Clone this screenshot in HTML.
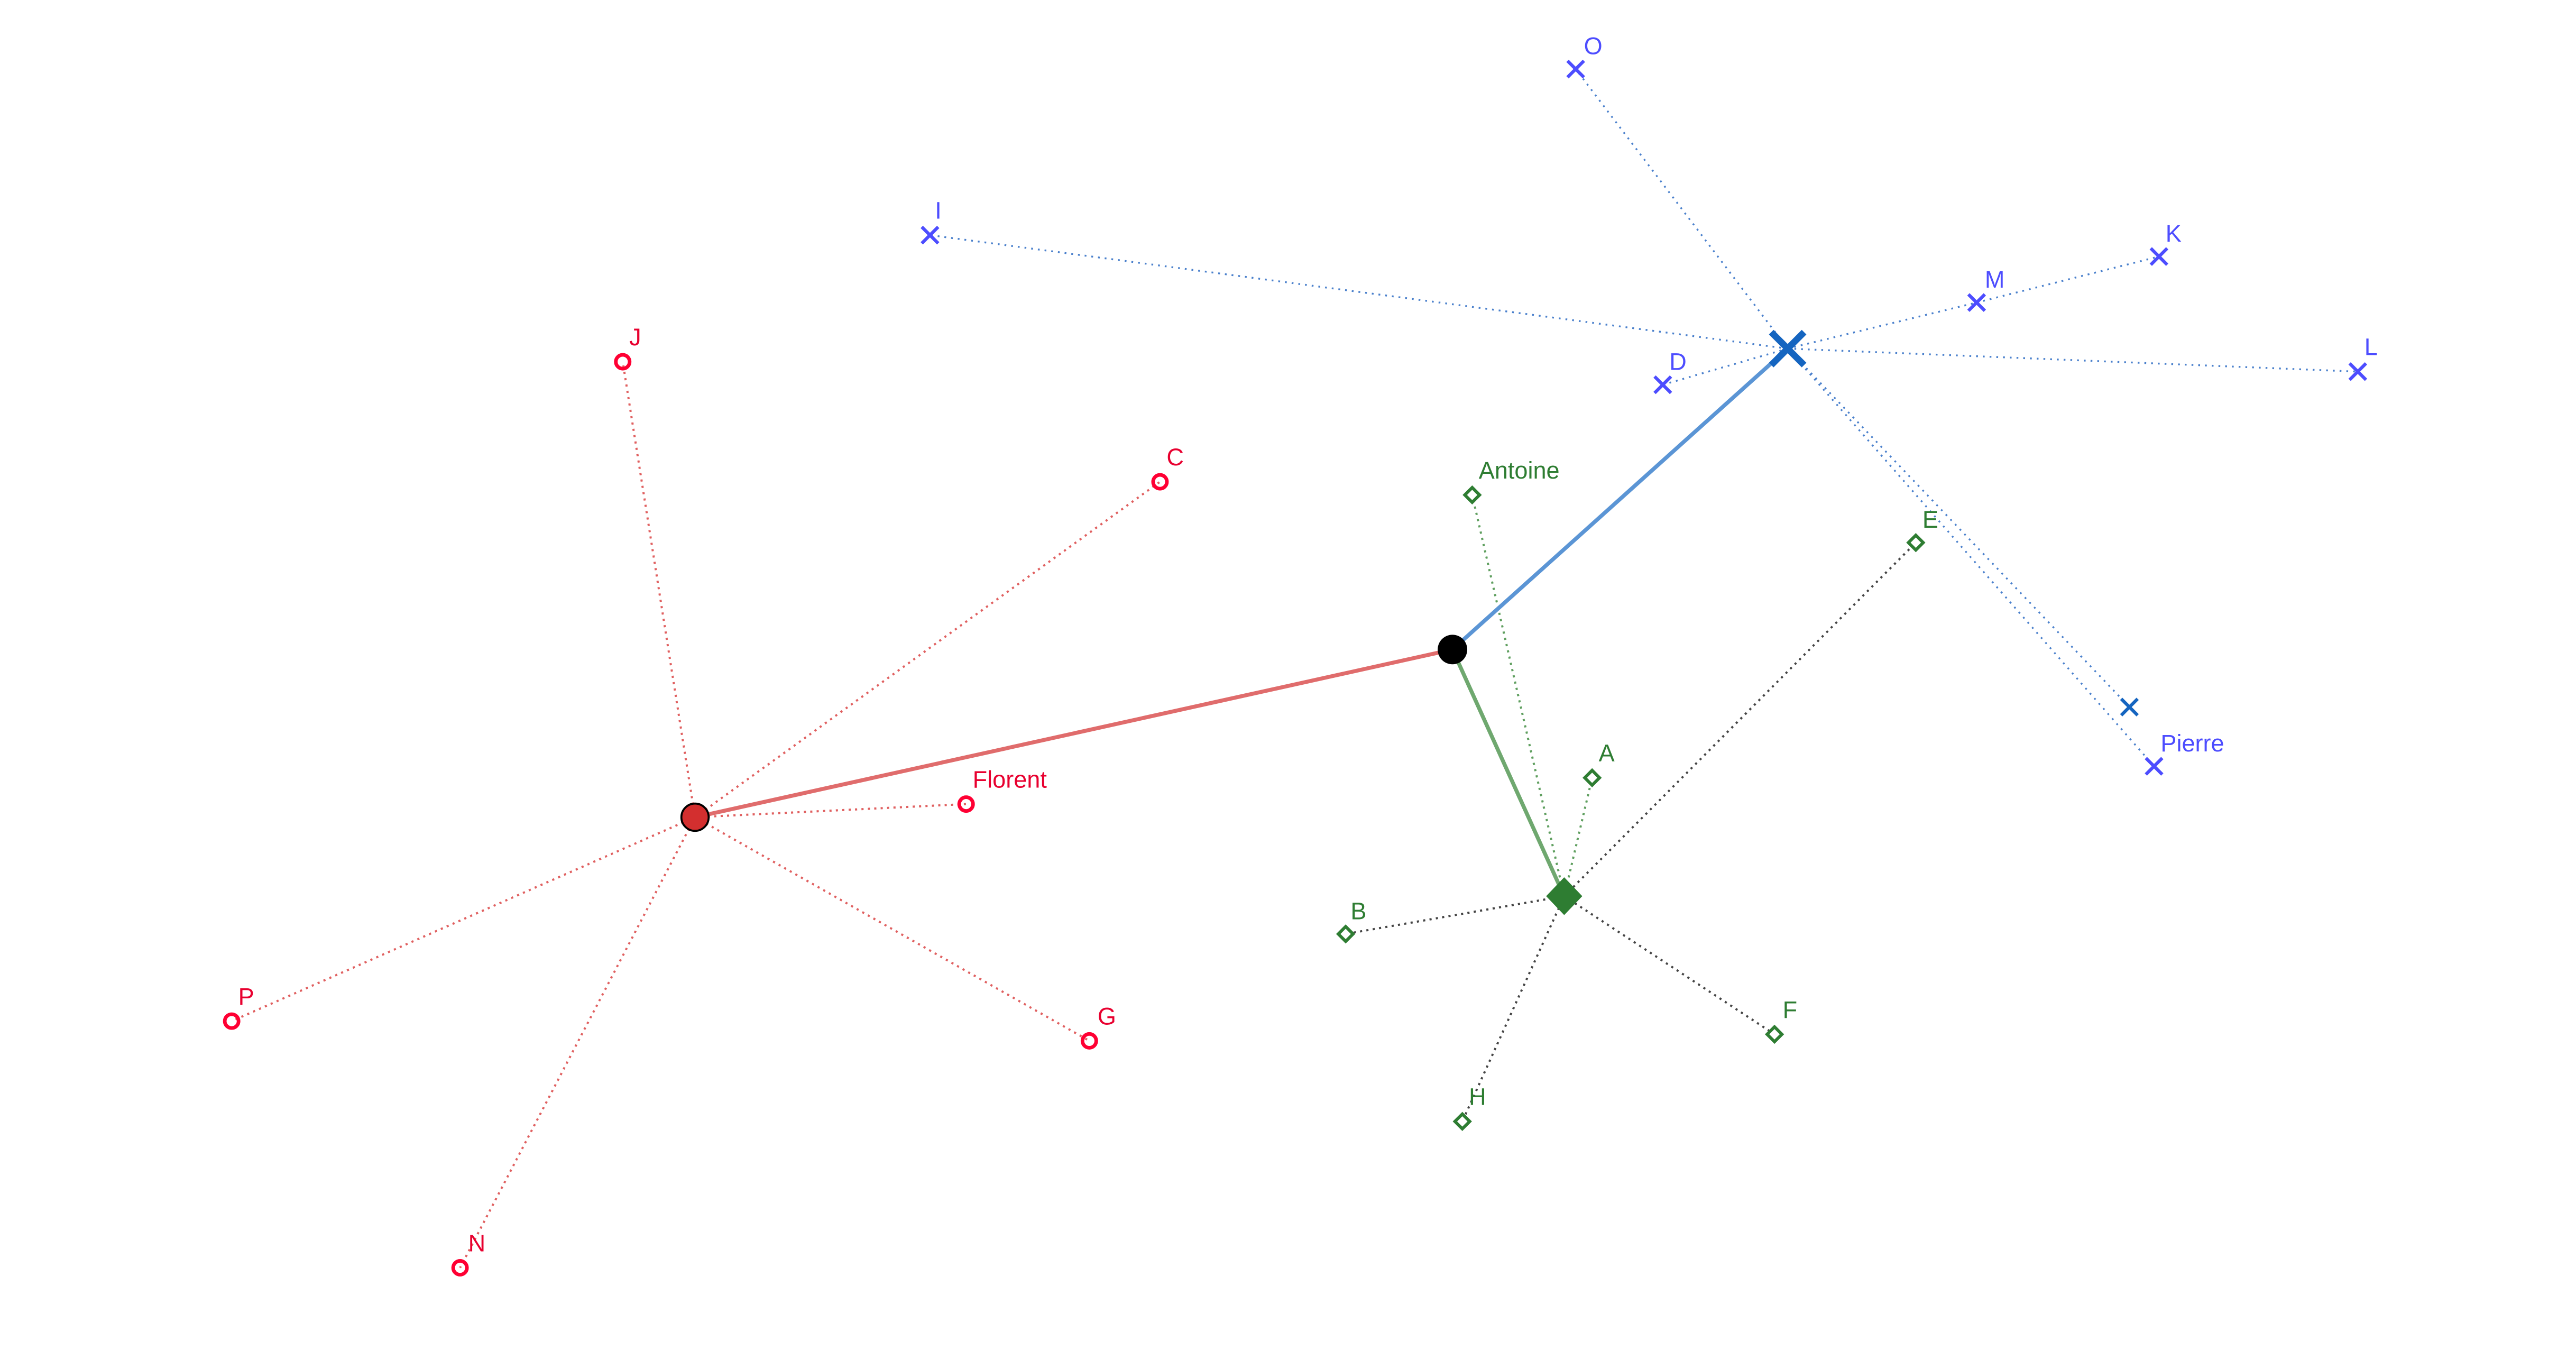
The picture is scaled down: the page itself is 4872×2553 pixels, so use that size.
<!DOCTYPE html>
<html><head><meta charset="utf-8"><style>
html,body{margin:0;padding:0;background:#fff;}
svg{display:block;}
text{font-family:"Liberation Sans",sans-serif;font-size:14.5px;}
</style></head><body>
<svg width="4872" height="2553" viewBox="0 0 1567.8 821" preserveAspectRatio="none" xmlns="http://www.w3.org/2000/svg">
<rect width="1570" height="822" fill="#fff"/>
<g stroke="#e06060" stroke-width="1.3" stroke-dasharray="1.3 2.6" fill="none">
<line x1="423" y1="497" x2="379" y2="220"/>
<line x1="423" y1="497" x2="706" y2="293"/>
<line x1="423" y1="497" x2="588" y2="489"/>
<line x1="423" y1="497" x2="141" y2="621"/>
<line x1="423" y1="497" x2="663" y2="633"/>
<line x1="423" y1="497" x2="280" y2="771"/>
</g>
<g stroke="#4a80cc" stroke-width="1.1" stroke-dasharray="1.1 3" fill="none">
<line x1="1088" y1="212" x2="959" y2="42"/>
<line x1="1088" y1="212" x2="566" y2="143"/>
<line x1="1088" y1="212" x2="1203" y2="184"/>
<line x1="1203" y1="184" x2="1314" y2="156"/>
<line x1="1088" y1="212" x2="1435" y2="226"/>
<line x1="1088" y1="212" x2="1012" y2="234"/>
<line x1="1088" y1="212" x2="1311" y2="466"/>
<line x1="1088" y1="212" x2="1296" y2="430"/>
</g>
<g stroke="#5f9f5f" stroke-width="1.3" stroke-dasharray="1.3 2.6" fill="none">
<line x1="952" y1="545" x2="896" y2="301"/>
<line x1="952" y1="545" x2="969" y2="473"/>
</g>
<g stroke="#444" stroke-width="1.3" stroke-dasharray="1.3 2.6" fill="none">
<line x1="952" y1="545" x2="1166" y2="330"/>
<line x1="952" y1="545" x2="819" y2="568"/>
<line x1="952" y1="545" x2="1080" y2="629"/>
<line x1="952" y1="545" x2="890" y2="682"/>
</g>
<line x1="884" y1="395" x2="423" y2="497" stroke="#e06c6c" stroke-width="2.4"/>
<line x1="884" y1="395" x2="1088" y2="212" stroke="#5b95d5" stroke-width="2.4"/>
<line x1="884" y1="395" x2="952" y2="545" stroke="#6fa86f" stroke-width="2.4"/>
<g fill="none" stroke="#ff0033" stroke-width="2.2">
<circle cx="379" cy="220" r="4.2"/><circle cx="706" cy="293" r="4.2"/>
<circle cx="588" cy="489" r="4.2"/><circle cx="141" cy="621" r="4.2"/>
<circle cx="663" cy="633" r="4.2"/><circle cx="280" cy="771" r="4.2"/>
</g>
<circle cx="423" cy="497" r="8.3" fill="#d32f2f" stroke="#000" stroke-width="1.2"/>
<circle cx="884" cy="395" r="9" fill="#000"/>
<g stroke="#4d4dff" stroke-width="2" fill="none">
<path d="M954 37l10 10M964 37l-10 10"/>
<path d="M561 138l10 10M571 138l-10 10"/>
<path d="M1309 151l10 10M1319 151l-10 10"/>
<path d="M1198 179l10 10M1208 179l-10 10"/>
<path d="M1430 221l10 10M1440 221l-10 10"/>
<path d="M1007 229l10 10M1017 229l-10 10"/>
<path d="M1306 461l10 10M1316 461l-10 10"/>
</g>
<path d="M1291 425l10 10M1301 425l-10 10" stroke="#1565c0" stroke-width="2" fill="none"/>
<path d="M1078 202l20 20M1098 202l-20 20" stroke="#1565c0" stroke-width="4" fill="none"/>
<g fill="#fff" stroke="#2e7d32" stroke-width="1.9">
<path d="M896 296.5l4.5 4.5-4.5 4.5-4.5-4.5z"/>
<path d="M1166 325.5l4.5 4.5-4.5 4.5-4.5-4.5z"/>
<path d="M969 468.5l4.5 4.5-4.5 4.5-4.5-4.5z"/>
<path d="M819 563.5l4.5 4.5-4.5 4.5-4.5-4.5z"/>
<path d="M1080 624.5l4.5 4.5-4.5 4.5-4.5-4.5z"/>
<path d="M890 677.5l4.5 4.5-4.5 4.5-4.5-4.5z"/>
</g>
<path d="M952 533.5l11 11.5-11 11.5-11-11.5z" fill="#2e7d32"/>
<g fill="#e8002f">
<text x="383" y="210">J</text><text x="710" y="283">C</text>
<text x="592" y="479">Florent</text><text x="145" y="611">P</text>
<text x="668" y="623">G</text><text x="285" y="761">N</text>
</g>
<g fill="#4d4dff">
<text x="964" y="33">O</text><text x="569" y="133">I</text>
<text x="1318" y="147">K</text><text x="1208" y="175">M</text>
<text x="1439" y="216">L</text><text x="1016" y="225">D</text>
<text x="1315" y="457">Pierre</text>
</g>
<g fill="#2e7d32">
<text x="900" y="291">Antoine</text><text x="1170" y="321">E</text>
<text x="973" y="463">A</text><text x="822" y="559">B</text>
<text x="1085" y="619">F</text><text x="894" y="672">H</text>
</g>
</svg>
</body></html>
